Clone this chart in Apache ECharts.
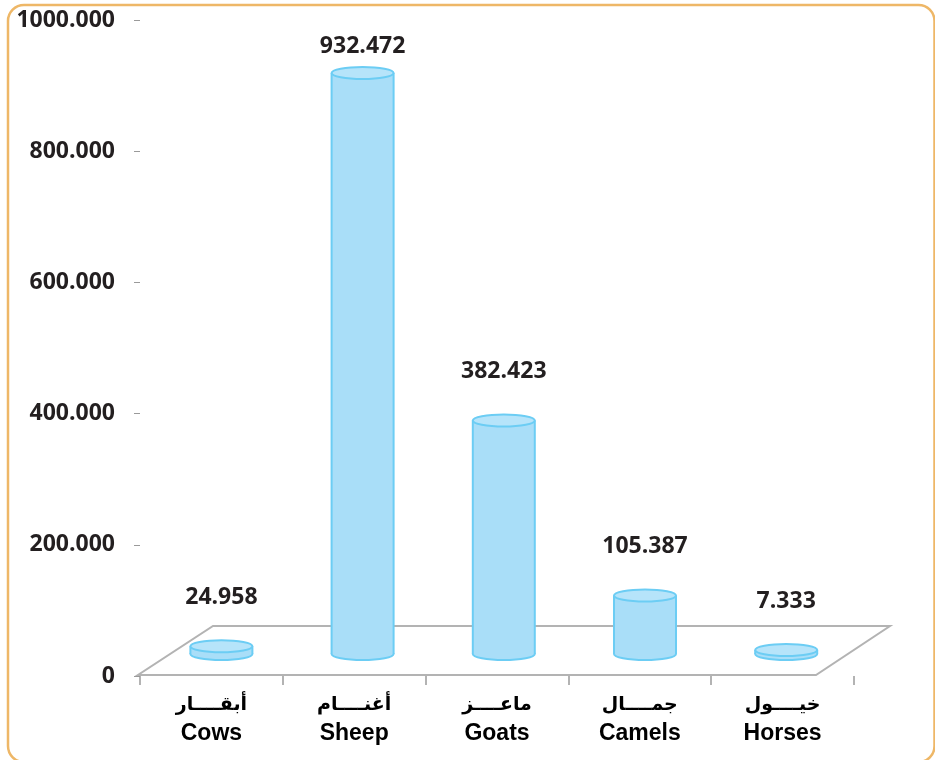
<!DOCTYPE html>
<html>
<head>
<meta charset="utf-8">
<script src="https://cdn.jsdelivr.net/npm/echarts@6/dist/echarts.min.js"></script>
<style>
  html, body { margin: 0; padding: 0; background: #ffffff; }
  #chart { width: 935px; height: 760px; }
</style>
</head>
<body>
<div id="chart"></div>
<script>
const categoriesEn = ['Cows', 'Sheep', 'Goats', 'Camels', 'Horses'];
const categoriesAr = ['أبقــــار', 'أغنــــام', 'ماعــــز', 'جمــــال', 'خيــــول'];
const values = [24.958, 932.472, 382.423, 105.387, 7.333];
const yMin = 0, yMax = 1000, yInterval = 200;

const chart = echarts.init(document.getElementById('chart'), null, { renderer: 'canvas' });

const barFill = '#A9DEF8';
const topFill = '#B6E4FA';
const barStroke = '#6CCDF4';
const numFont = '"Open Sans", "DejaVu Sans", sans-serif';

function floorRender(params, api) {
  const o = api.coord([0, 0]);
  const band = api.size([1, 0])[0];
  const left = o[0] - band / 2;
  const right = left + band * categoriesEn.length;
  const y0 = o[1];
  return {
    type: 'polygon',
    shape: { points: [[left - 2, y0 - 1], [right - 38, y0 - 1], [right + 36, y0 - 50], [left + 73, y0 - 50]] },
    style: { fill: '#ffffff', stroke: '#B3B3B3', lineWidth: 2 },
    z2: 0
  };
}

function cylRender(params, api) {
  const i = api.value(0);
  const v = api.value(1);
  const base = api.coord([i, 0]);
  const pv = api.coord([i, v]);
  const cx = base[0] + 10 - 1.6 * i;
  const floorY = base[1] - 22;
  let h = (base[1] - pv[1]) * 0.963 - 8;
  if (h < 4) h = 4;
  const top = floorY - h;
  const rx = 31, ry = 6;
  let labelY = top - 49;
  if (labelY < 46) labelY = 46;
  return {
    type: 'group',
    children: [
      { type: 'ellipse', shape: { cx: cx, cy: floorY, rx: rx, ry: ry }, style: { fill: barFill, stroke: barStroke, lineWidth: 2 } },
      { type: 'rect', shape: { x: cx - rx, y: top, width: rx * 2, height: floorY - top }, style: { fill: barFill } },
      { type: 'line', shape: { x1: cx - rx, y1: top, x2: cx - rx, y2: floorY }, style: { stroke: barStroke, lineWidth: 2 } },
      { type: 'line', shape: { x1: cx + rx, y1: top, x2: cx + rx, y2: floorY }, style: { stroke: barStroke, lineWidth: 2 } },
      { type: 'ellipse', shape: { cx: cx, cy: top, rx: rx, ry: ry }, style: { fill: topFill, stroke: barStroke, lineWidth: 2 } },
      { type: 'text', style: { text: v.toFixed(3), x: cx, y: labelY, align: 'center', verticalAlign: 'middle', fill: '#231F20', fontSize: 23, fontWeight: 'bold', fontFamily: numFont } }
    ]
  };
}

const option = {
  backgroundColor: '#ffffff',
  animation: false,
  graphic: [{
    type: 'rect',
    shape: { x: 8, y: 5, width: 926.5, height: 757, r: 16 },
    style: { fill: 'none', stroke: '#EEB767', lineWidth: 2.5 },
    z: -10,
    silent: true
  }],
  grid: { left: 140, right: 81, top: 20, bottom: 84, containLabel: false },
  xAxis: {
    type: 'category',
    data: categoriesEn,
    boundaryGap: true,
    axisLine: { show: false },
    axisTick: { show: true, length: 9, lineStyle: { color: '#9A9A9A', width: 1.5 } },
    axisLabel: {
      margin: 15,
      interval: 0,
      formatter: function (val, idx) {
        return '{ar|' + categoriesAr[idx] + '}\n{en|' + val + '}';
      },
      rich: {
        ar: { fontSize: 19, fontWeight: 'bold', fontFamily: '"DejaVu Sans", sans-serif', color: '#000000', lineHeight: 28, align: 'center' },
        en: { fontSize: 23, fontWeight: 'bold', fontFamily: '"Liberation Sans", Arial, sans-serif', color: '#000000', lineHeight: 30, align: 'center' }
      }
    },
    splitLine: { show: false }
  },
  yAxis: {
    type: 'value',
    min: yMin,
    max: yMax,
    interval: yInterval,
    axisLine: { show: false },
    axisTick: { show: true, length: 6, lineStyle: { color: '#9A9A9A', width: 1 } },
    axisLabel: {
      margin: 25,
      color: '#231F20',
      fontSize: 23,
      fontWeight: 'bold',
      fontFamily: numFont,
      formatter: function (v) { return v === 0 ? '0' : v.toFixed(3); }
    },
    splitLine: { show: false }
  },
  series: [
    {
      type: 'custom',
      name: 'floor',
      renderItem: floorRender,
      data: [[0, 0]],
      encode: { x: 0, y: 1 },
      clip: false,
      silent: true,
      z: 1
    },
    {
      type: 'custom',
      name: 'values',
      renderItem: cylRender,
      data: values.map((v, i) => [i, v]),
      encode: { x: 0, y: 1 },
      clip: false,
      silent: true,
      z: 2
    }
  ]
};

chart.setOption(option);
</script>
</body>
</html>
